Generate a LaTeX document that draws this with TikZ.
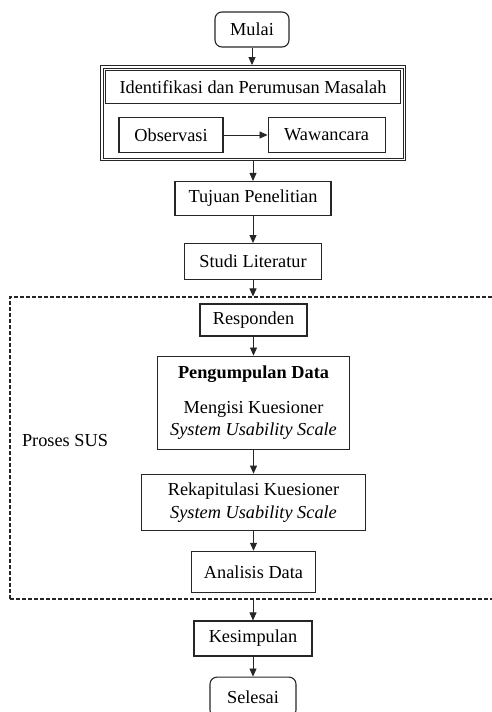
\documentclass[tikz,border=0pt]{standalone}
\usepackage{fontspec}
\setmainfont{Liberation Serif}
\usepackage{tikz}
\usetikzlibrary{positioning,arrows.meta}
\colorlet{lineclr}{black!85}
\tikzstyle{proc}=[draw=lineclr,line width=1.1pt,rectangle,inner sep=0,align=center]
\tikzstyle{terminal}=[proc,rounded corners=7pt]
\tikzstyle{flow}=[draw=lineclr,line width=0.8pt,-{Triangle[length=8pt,width=7pt]}]

\begin{document}
\begin{tikzpicture}[x=1pt,y=-1pt,font=\fontsize{18.3}{22}\selectfont]

	\useasboundingbox (0,0) rectangle (491,712);

	\node[terminal, minimum width=74pt, minimum height=35pt] (mulai) at (252,29.5) {Mulai};

	% masalah group, framed twice
	\node[draw=lineclr, line width=0.9pt, minimum width=305pt, minimum height=95pt] (grp) at (253,113) {};
	\draw[lineclr, line width=0.9pt] ([xshift=3pt,yshift=-3pt]grp.north west) rectangle ([xshift=-3pt,yshift=3pt]grp.south east);
	\node[proc, minimum width=295pt, minimum height=33pt, below=5pt of grp.north] (ident) {Identifikasi dan Perumusan Masalah};
	\node[proc, minimum width=104pt, minimum height=35pt] (obs) at (171,135) {Observasi};
	\node[proc, minimum width=117pt, minimum height=35pt, right=44pt of obs] (waw) {Wawancara};

	\node[proc, minimum width=156pt, minimum height=34pt, below=20pt of grp] (tujuan) {Tujuan Penelitian};
	\node[proc, minimum width=137pt, minimum height=36pt, below=27pt of tujuan] (studi) {Studi Literatur};

	% proses SUS
	\node[draw=lineclr, dash pattern=on 4pt off 2pt, line width=1.1pt, minimum width=510pt, minimum height=302pt] (sus) at (265,448) {};
	\node (lsus) at (65,441) {Proses SUS};

	\node[proc, minimum width=107pt, minimum height=32pt] (resp) at (253.5,320) {Responden};
	\node[proc, minimum width=192pt, minimum height=93pt, below=19pt of resp] (kumpul)
		{\textbf{Pengumpulan Data}\\[13pt] Mengisi Kuesioner\\ \textit{System Usability Scale}};
	\node[proc, minimum width=224pt, minimum height=56pt, below=24pt of kumpul, font=\fontsize{18.3}{23}\selectfont] (rekap)
		{Rekapitulasi Kuesioner\\ \textit{System Usability Scale}};
	\node[proc, minimum width=124pt, minimum height=41pt, below=20pt of rekap] (analisis) {Analisis Data};

	\node[proc, minimum width=118pt, minimum height=35pt] (kes) at (253,638.5) {Kesimpulan};
	\node[terminal, minimum width=86pt, minimum height=40pt, below=20pt of kes] (selesai) {Selesai};

	% arrows
	\draw[flow] (mulai) -- (mulai |- grp.north);
	\draw[flow] (obs) -- (waw);
	\draw[flow] (grp.south -| tujuan) -- (tujuan);
	\draw[flow] (tujuan) -- (studi);
	\draw[flow] (studi) -- (studi |- sus.north);
	\draw[flow] (resp) -- (kumpul);
	\draw[flow] (kumpul) -- (rekap);
	\draw[flow] (rekap) -- (analisis);
	\draw[flow] (kes |- sus.south) -- (kes);
	\draw[flow] (kes) -- (selesai);

\end{tikzpicture}
\end{document}
